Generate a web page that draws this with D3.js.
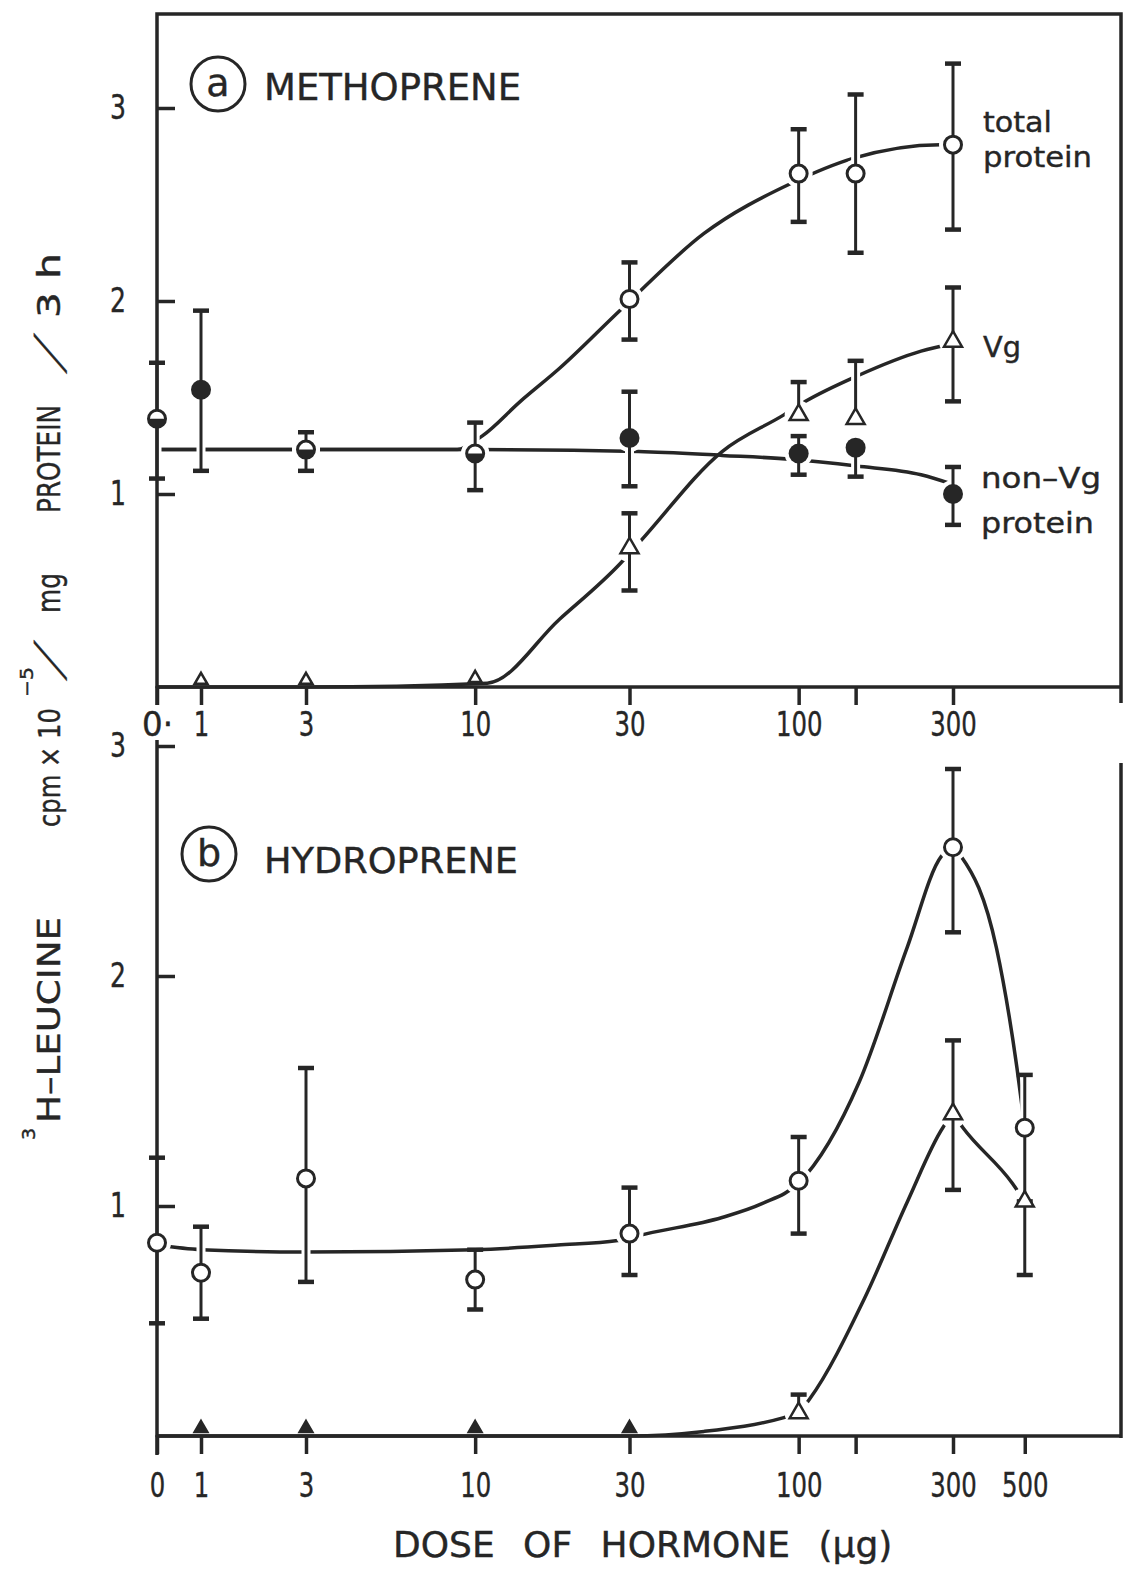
<!DOCTYPE html>
<html>
<head>
<meta charset="utf-8">
<script src="https://cdn.jsdelivr.net/npm/d3@7"></script>
<style>
  body { margin: 0; background: #fff; }
  svg { display: block; }
  text { font-family: "DejaVu Sans", sans-serif; fill: #262626; stroke: #262626; stroke-width: 0.4px; }
</style>
</head>
<body>
<svg id="fig" width="1129" height="1571"></svg>
<script>
'use strict';

// x axis: dose of hormone (ug), the 0..1 part is a broken axis
const doseTicksA = [0, 1, 3, 10, 30, 100, 150, 300];
const doseLabelsA = ['0·', '1', '3', '10', '30', '100', '', '300'];
const doseTicksB = [0, 1, 3, 10, 30, 100, 150, 300, 500];
const doseLabelsB = ['0', '1', '3', '10', '30', '100', '', '300', '500'];
const valueTicks = [1, 2, 3];

// rows are [dose, mean, low end of bar, high end of bar]  (cpm x 1e-5 / mg protein / 3 h)
// (a) methoprene
const totalA = [
  [0, 1.39, null, null], [3, 1.23, null, null], [10, 1.21, null, null],
  [30, 2.01, 1.80, 2.20], [100, 2.66, 2.41, 2.89], [150, 2.66, 2.25, 3.07], [300, 2.81, 2.37, 3.23]
];
const vgA = [
  [1, 0.02, null, null], [3, 0.02, null, null], [10, 0.03, null, null],
  [30, 0.72, 0.50, 0.90], [100, 1.41, null, 1.58], [150, 1.39, null, 1.69], [300, 1.79, 1.48, 2.07]
];
const nonVgA = [
  [0, 1.39, 1.08, 1.68], [1, 1.54, 1.12, 1.95], [3, 1.23, 1.12, 1.32], [10, 1.21, 1.02, 1.37],
  [30, 1.29, 1.04, 1.53], [100, 1.21, 1.10, 1.30], [150, 1.24, 1.09, null], [300, 1.00, 0.84, 1.14]
];
// hand-drawn fitted curves, [dose, value]
const curveTotalA = [[0, 1.23], [3, 1.23], [8.8, 1.23], [10.5, 1.30], [13.8, 1.48], [18.2, 1.65],
  [28.4, 1.96], [51, 2.35], [95, 2.61], [148, 2.74], [274, 2.81], [300, 2.81]];
const curveVgA = [[0, 0], [3, 0], [10.9, 0.02], [18.2, 0.35], [28.1, 0.64], [32.6, 0.76],
  [58, 1.22], [90, 1.41], [105, 1.48], [151, 1.61], [239, 1.74], [300, 1.78]];
const curveNonVgA = [[0, 1.23], [10, 1.23], [32, 1.22], [58, 1.20], [95, 1.18], [151, 1.145],
  [239, 1.10], [300, 1.05]];

// (b) hydroprene
const totalB = [
  [0, 0.84, 0.49, 1.21], [1, 0.71, 0.51, 0.91], [3, 1.12, 0.67, 1.60], [10, 0.68, 0.55, 0.81],
  [30, 0.88, 0.70, 1.08], [100, 1.11, 0.88, 1.30], [300, 2.56, 2.19, 2.90], [500, 1.34, 1.02, 1.57]
];
const vgB = [
  [1, 0.02, null, null], [3, 0.02, null, null], [10, 0.02, null, null], [30, 0.02, null, null],
  [100, 0.10, null, 0.18], [300, 1.40, 1.07, 1.72], [500, 1.02, 0.70, null]
];
const curveTotalB = [[0, 0.83], [1, 0.81], [3, 0.80], [10, 0.81], [18, 0.83], [27.6, 0.85], [34, 0.88],
  [58, 0.95], [77, 1.01], [100, 1.10], [154, 1.54], [216, 2.12], [276, 2.52], [300, 2.56],
  [318, 2.52], [409, 2.12], [473, 1.60], [500, 1.34]];
const curveVgB = [[0, 0], [30, 0], [51, 0.02], [90, 0.08], [100, 0.10], [108, 0.16], [160, 0.60],
  [217, 1.02], [279, 1.34], [300, 1.40], [322, 1.34], [457, 1.10], [500, 1.02]];

const ink = '#262626';
const svg = d3.select('#fig');

// log scale from 3 ug on, linear broken piece for 0 and 1
function doseScale() {
  const logPart = d3.scaleLog().domain([3, 300]).range([306, 953]);
  const lowPart = d3.scaleLinear().domain([0, 1, 3]).range([157, 201, logPart(3)]);
  const f = d => d >= 3 ? logPart(d) : lowPart(d);
  f.copy = () => f;
  f.range = () => [157, 1121];
  f.domain = () => [0, 500];
  return f;
}
const x = doseScale();
const yA = d3.scaleLinear().domain([0, 3]).range([687, 108]);
const yB = d3.scaleLinear().domain([0, 3]).range([1436, 746]);

function narrow(sel, perChar) {
  sel.each(function () {
    const t = d3.select(this).text();
    if (t.length) d3.select(this).attr('textLength', t.length * perChar).attr('lengthAdjust', 'spacingAndGlyphs');
  });
}

function drawPanel(p) {
  const g = svg.append('g');
  const y = p.y;
  const line = d3.line().x(d => x(d[0])).y(d => y(d[1])).curve(d3.curveMonotoneX);

  g.append('g').selectAll('path').data(p.curves).join('path')
    .attr('d', line)
    .attr('fill', 'none')
    .attr('stroke', ink)
    .attr('stroke-width', 3.5)
    .attr('stroke-linecap', 'round');

  const rows = p.total.concat(p.vg, p.nonVg || []);
  const barRows = rows.filter(r => r[2] != null || r[3] != null);

  // drafting gaps: curves stop short of bars and symbols
  g.append('g').selectAll('line').data(barRows).join('line')
    .attr('x1', r => x(r[0])).attr('x2', r => x(r[0]))
    .attr('y1', r => y(r[2] ?? r[1])).attr('y2', r => y(r[3] ?? r[1]))
    .attr('stroke', '#fff').attr('stroke-width', 9);
  g.append('g').selectAll('circle').data(rows.filter(r => r[1] >= 0.05)).join('circle')
    .attr('cx', r => x(r[0])).attr('cy', r => y(r[1])).attr('r', 14).attr('fill', '#fff');

  // frame
  g.append('path')
    .attr('d', p.frame)
    .attr('fill', 'none').attr('stroke', ink).attr('stroke-width', 3.5);
  g.append('line')
    .attr('x1', 157).attr('x2', 1121).attr('y1', y(0)).attr('y2', y(0))
    .attr('stroke', ink).attr('stroke-width', 3.5);

  const yAxis = g.append('g')
    .attr('transform', 'translate(157,0)')
    .attr('color', ink)
    .call(d3.axisLeft(y).tickValues(valueTicks).tickFormat(d3.format('d'))
      .tickSizeInner(-18).tickSizeOuter(0).tickPadding(31));
  yAxis.select('.domain').remove();
  yAxis.selectAll('line').attr('stroke-width', 3.5);
  yAxis.selectAll('text').style('font-size', '34px').call(narrow, 16);

  const xAxis = g.append('g')
    .attr('transform', `translate(0,${y(0)})`)
    .attr('color', ink)
    .call(d3.axisBottom(x).tickValues(p.ticks).tickFormat((d, i) => p.labels[i])
      .tickSizeInner(18).tickSizeOuter(0).tickPadding(p.labelPad));
  xAxis.select('.domain').remove();
  xAxis.selectAll('line').attr('stroke-width', 3.5);
  xAxis.selectAll('text').style('font-size', '34px').call(narrow, 15.5);

  // error bars
  g.append('g').selectAll('line').data(barRows).join('line')
    .attr('x1', r => x(r[0])).attr('x2', r => x(r[0]))
    .attr('y1', r => y(r[2] ?? r[1])).attr('y2', r => y(r[3] ?? r[1]))
    .attr('stroke', ink).attr('stroke-width', 3);
  const caps = [];
  barRows.forEach(r => {
    if (r[2] != null) caps.push([r[0], r[2]]);
    if (r[3] != null) caps.push([r[0], r[3]]);
  });
  g.append('g').selectAll('line').data(caps).join('line')
    .attr('x1', c => x(c[0]) - 8).attr('x2', c => x(c[0]) + 8)
    .attr('y1', c => y(c[1])).attr('y2', c => y(c[1]))
    .attr('stroke', ink).attr('stroke-width', 4.5);

  // symbols; where total and non-Vg points coincide a half-filled circle is used
  const nonVg = p.nonVg || [];
  const same = (a, b) => a[0] === b[0] && Math.abs(a[1] - b[1]) < 0.02;
  const isBoth = r => p.total.some(t => same(t, r)) && nonVg.some(n => same(n, r));

  g.append('g').selectAll('path').data(p.vg).join('path')
    .attr('transform', r => `translate(${x(r[0])},${y(r[1]) + (r[1] < 0.05 ? -3 : 0)})`)
    .attr('d', r => d3.symbol(d3.symbolTriangle, r[1] < 0.05 ? 70 : 140)())
    .attr('fill', r => (r[1] < 0.05 && p.zeroFilled) ? ink : '#fff')
    .attr('stroke', ink).attr('stroke-width', 2.5);

  g.append('g').selectAll('circle').data(p.total.filter(r => !isBoth(r))).join('circle')
    .attr('cx', r => x(r[0])).attr('cy', r => y(r[1])).attr('r', 8.5)
    .attr('fill', '#fff').attr('stroke', ink).attr('stroke-width', 3);

  g.append('g').selectAll('circle').data(nonVg.filter(r => !isBoth(r))).join('circle')
    .attr('cx', r => x(r[0])).attr('cy', r => y(r[1])).attr('r', 10)
    .attr('fill', ink);

  const half = nonVg.filter(isBoth);
  const halfG = g.append('g').selectAll('g').data(half).join('g')
    .attr('transform', r => `translate(${x(r[0])},${y(r[1])})`);
  halfG.append('circle').attr('r', 8.5).attr('fill', '#fff').attr('stroke', ink).attr('stroke-width', 3);
  halfG.append('path')
    .attr('d', d3.arc()({innerRadius: 0, outerRadius: 9, startAngle: Math.PI / 2, endAngle: 3 * Math.PI / 2}))
    .attr('fill', ink);

  return g;
}

drawPanel({
  y: yA, ticks: doseTicksA, labels: doseLabelsA, labelPad: 7,
  total: totalA, vg: vgA, nonVg: nonVgA,
  curves: [curveTotalA, curveVgA, curveNonVgA],
  frame: 'M157,705 L157,14 L1121,14 L1121,703',
  zeroFilled: false
});
drawPanel({
  y: yB, ticks: doseTicksB, labels: doseLabelsB, labelPad: 19,
  total: totalB, vg: vgB,
  curves: [curveTotalB, curveVgB],
  frame: 'M157,1455 L157,740 M1121,763 L1121,1438',
  zeroFilled: true
});

// panel captions
function caption(cx, cy, letter, name, nameY, size, len) {
  svg.append('circle').attr('cx', cx).attr('cy', cy).attr('r', 27)
    .attr('fill', 'none').attr('stroke', ink).attr('stroke-width', 3);
  svg.append('text').attr('x', cx).attr('y', cy + 12).attr('text-anchor', 'middle')
    .style('font-size', '38px').text(letter);
  svg.append('text').attr('x', 264).attr('y', nameY)
    .style('font-size', size + 'px')
    .attr('textLength', len).attr('lengthAdjust', 'spacingAndGlyphs')
    .text(name);
}
caption(218, 84, 'a', 'METHOPRENE', 100, 37, 257);
caption(209, 854, 'b', 'HYDROPRENE', 873, 35, 254);

// series names at the right of panel a
const seriesNames = [
  ['total', 983, 132, 69], ['protein', 983, 167, 109], ['Vg', 983, 357, 38],
  ['non–Vg', 981, 488, 120], ['protein', 981, 533, 113]
];
svg.append('g').selectAll('text').data(seriesNames).join('text')
  .attr('x', d => d[1]).attr('y', d => d[2])
  .attr('textLength', d => d[3]).attr('lengthAdjust', 'spacingAndGlyphs')
  .style('font-size', '29px')
  .text(d => d[0]);

// x title
svg.append('text')
  .attr('x', 393).attr('y', 1557)
  .style('font-size', '36px').style('word-spacing', '17px')
  .text('DOSE OF HORMONE (µg)');

// y title, rotated, built from pieces laid along the axis:
// [text, start along axis, length (0 = natural), font size, offset across, skew]
const yTitle = [
  ['3', 0, 12, 18, -25, 0],
  ['H–LEUCINE', 17, 206, 32, 0, 0],
  ['cpm × 10', 313, 119, 30, 0, 0],
  ['−5', 443, 30, 18, -27, 0],
  ['/', 462, 0, 40, 3, -40],
  ['mg', 527, 40, 32, 0, 0],
  ['PROTEIN', 627, 108, 32, 0, 0],
  ['/', 769, 0, 40, 3, -40],
  ['3 h', 822, 65, 32, 0, 0]
];
svg.append('g')
  .attr('transform', 'translate(60,1140) rotate(-90)')
  .selectAll('text').data(yTitle).join('text')
  .attr('transform', d => `translate(${d[1]},${d[4]}) skewX(${d[5]})`)
  .each(function (d) {
    if (d[2]) d3.select(this).attr('textLength', d[2]).attr('lengthAdjust', 'spacingAndGlyphs');
  })
  .style('font-size', d => d[3] + 'px')
  .text(d => d[0]);
</script>
</body>
</html>
